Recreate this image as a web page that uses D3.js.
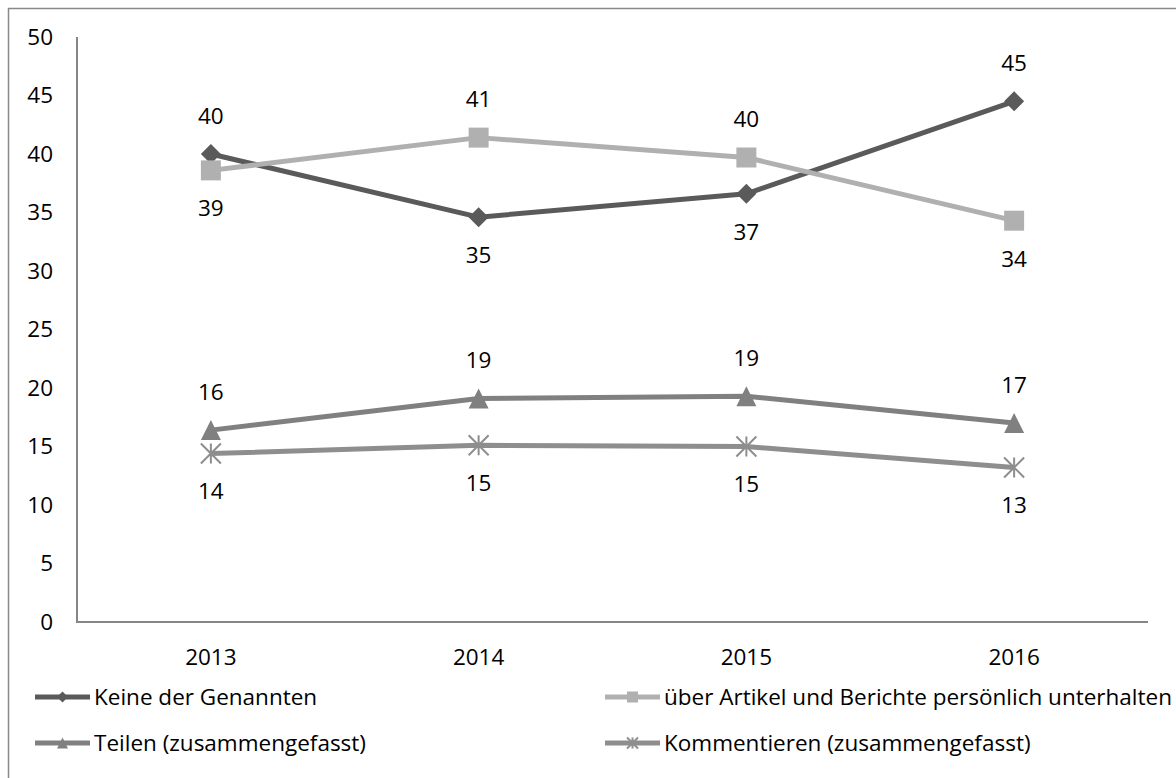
<!DOCTYPE html>
<html>
<head>
<meta charset="utf-8">
<script src="https://cdn.jsdelivr.net/npm/d3@7"></script>
<style>
  body { margin: 0; background: #fff; }
  text { font-family: "Open Sans", sans-serif; fill: #000; }
</style>
</head>
<body>
<div id="chart"></div>
<script>
// data
var years = ["2013", "2014", "2015", "2016"];
var keine = [40.0, 34.6, 36.6, 44.5];
var ueber = [38.6, 41.4, 39.7, 34.3];
var teilen = [16.4, 19.1, 19.3, 17.0];
var kommentieren = [14.4, 15.1, 15.0, 13.2];
var keineLabels = ["40", "35", "37", "45"];
var ueberLabels = ["39", "41", "40", "34"];
var teilenLabels = ["16", "19", "19", "17"];
var kommLabels = ["14", "15", "15", "13"];
var yTicks = [0, 5, 10, 15, 20, 25, 30, 35, 40, 45, 50];

var width = 1176;
var height = 778;
var fontSize = "22.5px";

// series table: label position above (-1) or below (+1)
var series = [
  { name: "Keine der Genannten", values: keine, labels: keineLabels, color: "#5a5a5a", marker: "diamond", pos: [-1, 1, 1, -1] },
  { name: "über Artikel und Berichte persönlich unterhalten", values: ueber, labels: ueberLabels, color: "#b0b0b0", marker: "square", pos: [1, -1, -1, 1] },
  { name: "Teilen (zusammengefasst)", values: teilen, labels: teilenLabels, color: "#808080", marker: "triangle", pos: [-1, -1, -1, -1] },
  { name: "Kommentieren (zusammengefasst)", values: kommentieren, labels: kommLabels, color: "#8e8e8e", marker: "star", pos: [1, 1, 1, 1] }
];

var svg = d3.select("#chart")
  .append("svg")
    .attr("width", width)
    .attr("height", height);

// outer frame
svg.append("rect")
    .attr("x", 8.5).attr("y", 8.5)
    .attr("width", 1180).attr("height", 800)
    .style("fill", "none")
    .style("stroke", "#888")
    .style("stroke-width", 1.5);

var x = d3.scaleBand()
    .domain(years)
    .range([77, 1148]);

var y = d3.scaleLinear()
    .domain([0, 50])
    .range([622, 37]);

function cx(i) { return x(years[i]) + x.bandwidth() / 2; }

// axes
svg.append("line")
    .attr("x1", 77).attr("x2", 77)
    .attr("y1", y(50)).attr("y2", y(0))
    .style("stroke", "#868686").style("stroke-width", 2);
svg.append("line")
    .attr("x1", 76).attr("x2", 1148)
    .attr("y1", y(0)).attr("y2", y(0))
    .style("stroke", "#868686").style("stroke-width", 2);

svg.selectAll(".ytick")
  .data(yTicks)
  .enter()
  .append("text")
    .attr("x", 53)
    .attr("y", function(d) { return y(d); })
    .attr("dy", "0.35em")
    .attr("text-anchor", "end")
    .style("font-size", fontSize)
    .text(function(d) { return d; });

svg.selectAll(".xtick")
  .data(years)
  .enter()
  .append("text")
    .attr("x", function(d) { return x(d) + x.bandwidth() / 2; })
    .attr("y", 657)
    .attr("dy", "0.35em")
    .attr("text-anchor", "middle")
    .style("font-size", fontSize)
    .text(function(d) { return d; });

function markerPath(type, s) {
  var h = s / 2;
  if (type === "diamond") return "M0," + (-h) + "L" + h + ",0L0," + h + "L" + (-h) + ",0Z";
  if (type === "square") return "M" + (-h) + "," + (-h) + "H" + h + "V" + h + "H" + (-h) + "Z";
  if (type === "triangle") return "M0," + (-h) + "L" + h + "," + h + "L" + (-h) + "," + h + "Z";
  // asterisk
  return "M" + (-h) + "," + (-h) + "L" + h + "," + h +
         "M" + (-h) + "," + h + "L" + h + "," + (-h) +
         "M0," + (-h) + "L0," + h;
}

function drawMarker(g, type, color, s) {
  var p = g.append("path").attr("d", markerPath(type, s));
  if (type === "star") {
    p.style("fill", "none").style("stroke", color).style("stroke-width", 2);
  } else {
    p.style("fill", color);
  }
}

var line = d3.line()
    .x(function(d, i) { return cx(i); })
    .y(function(d) { return y(d); });

series.forEach(function(s) {
  svg.append("path")
      .datum(s.values)
      .attr("d", line)
      .style("fill", "none")
      .style("stroke", s.color)
      .style("stroke-width", 5)
      .style("stroke-linejoin", "round");
});

series.forEach(function(s) {
  s.values.forEach(function(v, i) {
    var g = svg.append("g")
        .attr("transform", "translate(" + cx(i) + "," + y(v) + ")");
    drawMarker(g, s.marker, s.color, 20);
    svg.append("text")
        .attr("x", cx(i))
        .attr("y", y(v) + s.pos[i] * 38)
        .attr("dy", "0.35em")
        .attr("text-anchor", "middle")
        .style("font-size", fontSize)
        .text(s.labels[i]);
  });
});

// legend
var legendPos = [[35, 697], [605, 697], [35, 743], [605, 743]];
series.forEach(function(s, i) {
  var lx = legendPos[i][0], ly = legendPos[i][1];
  var g = svg.append("g").attr("transform", "translate(" + lx + "," + ly + ")");
  g.append("line")
      .attr("x1", 0).attr("x2", 55)
      .attr("y1", 0).attr("y2", 0)
      .style("stroke", s.color)
      .style("stroke-width", 5);
  var m = g.append("g").attr("transform", "translate(27.5,0)");
  drawMarker(m, s.marker, s.color, 11);
  g.append("text")
      .attr("x", 59)
      .attr("y", 0)
      .attr("dy", "0.35em")
      .style("font-size", fontSize)
      .text(s.name);
});
</script>
</body>
</html>
